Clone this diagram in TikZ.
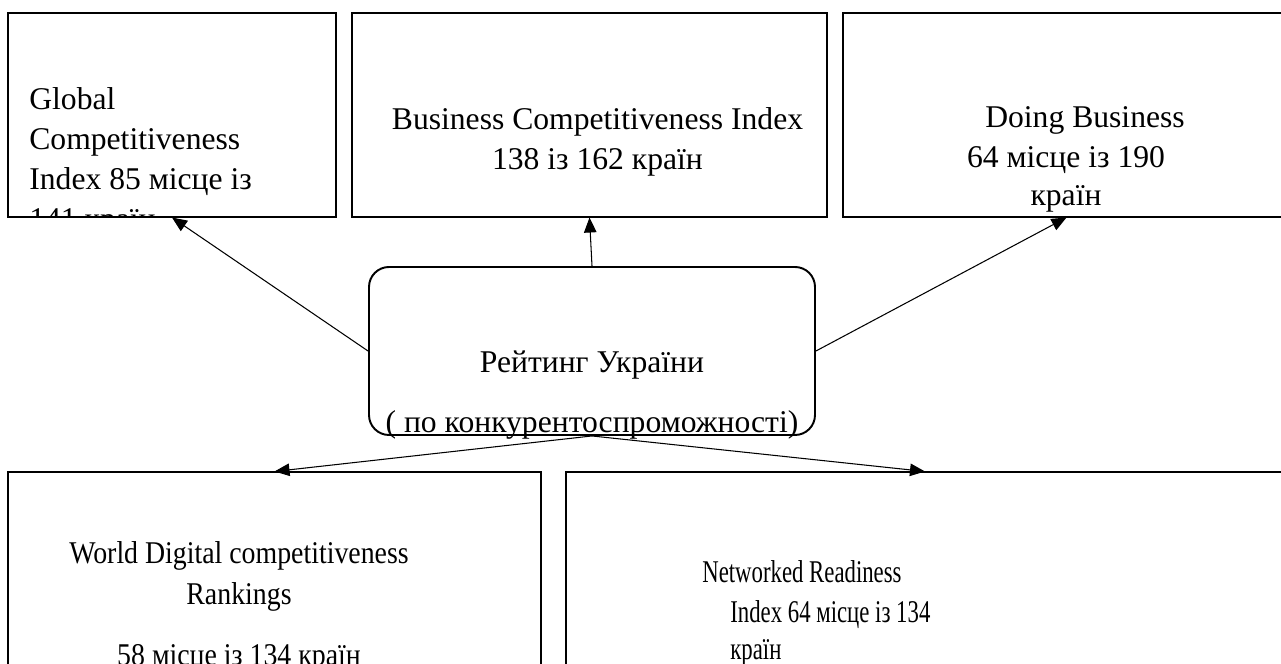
\documentclass[tikz,border=0pt]{standalone}
\usepackage{fontspec}
\setmainfont{Liberation Serif}
\newfontfamily\semicondfont{Liberation Serif}[FakeStretch=0.88]
\newfontfamily\condfont{Liberation Serif}[FakeStretch=0.72]
\usepackage{tikz}
\usetikzlibrary{shapes, arrows.meta}

\begin{document}
\begin{tikzpicture}
      \tikzstyle{panel} = [
        rectangle,
        draw,
        line width = 0.6pt,
        inner sep = 0pt
      ]

      \tikzstyle{rating} = [
        rectangle,
        draw,
        line width = 1.1pt,
        rounded corners = 0.4cm,
        inner sep = 0pt
      ]

      \tikzstyle{caption} = [
        inner sep = 0pt,
        font = \fontsize{18pt}{22.8pt}\selectfont
      ]

      \tikzstyle{link} = [
        line width = 0.6pt,
        -{Triangle[length=0.3cm, width=0.25cm]}
      ]

      \clip (0,0) rectangle (25.62,13.28);

      \node[panel, minimum width=6.56cm, minimum height=4.08cm] (gci) at (3.44,10.98) {};
      \node[panel, minimum width=9.5cm, minimum height=4.08cm] (bci) at (11.79,10.98) {};
      \node[panel, minimum width=8.94cm, minimum height=4.08cm] (db) at (21.33,10.98) {};
      \node[rating, minimum width=8.92cm, minimum height=3.36cm] (rating) at (11.84,6.26) {};
      \node[panel, minimum width=10.66cm, minimum height=4.14cm] (wdc) at (5.49,1.77) {};
      \node[panel, minimum width=14.36cm, minimum height=4.14cm] (nri) at (18.5,1.77) {};

      % base of each caption is the baseline of its last line
      \begin{scope}
        \clip (gci.south west) rectangle (gci.north east);
        \node[caption, anchor=base west, align=left] (gci text) at (0.58,8.68)
          {Global\\Competitiveness\\Index 85 місце із\\141 країн};
      \end{scope}
      \node[caption, anchor=base, align=center] (bci text) at (11.95,9.88)
        {Business Competitiveness Index\\[0.4pt]138 із 162 країн};
      \node[caption, anchor=base, align=center] (db text) at (21.32,9.16)
        {\hspace*{0.76cm}Doing Business\\64 місце із 190\\[-0.8pt]країн};
      \node[caption, anchor=base, align=center] (rating text) at (11.84,4.62)
        {Рейтинг України\\[0.4cm]( по конкурентоспроможності)};
      \node[caption, anchor=base, align=center] (wdc text) at (4.78,-0.04)
        {\semicondfont World Digital competitiveness\\[1pt]\semicondfont Rankings\\[0.42cm]\semicondfont 58 місце із 134 країн};
      \node[caption, anchor=base west, align=left] (nri text) at (14.04,0.08)
        {\condfont Networked Readiness\\\hspace*{0.56cm}\condfont Index 64 місце із 134\\[-1.5pt]\hspace*{0.56cm}\condfont країн};

      \draw[link] (rating.west) -- (gci.south);
      \draw[link] (rating.north) -- (bci.south);
      \draw[link] (rating.east) -- (db.south);
      \draw[link] (rating.south) -- (wdc.north);
      \draw[link] (rating.south) -- (nri.north);
\end{tikzpicture}
\end{document}
